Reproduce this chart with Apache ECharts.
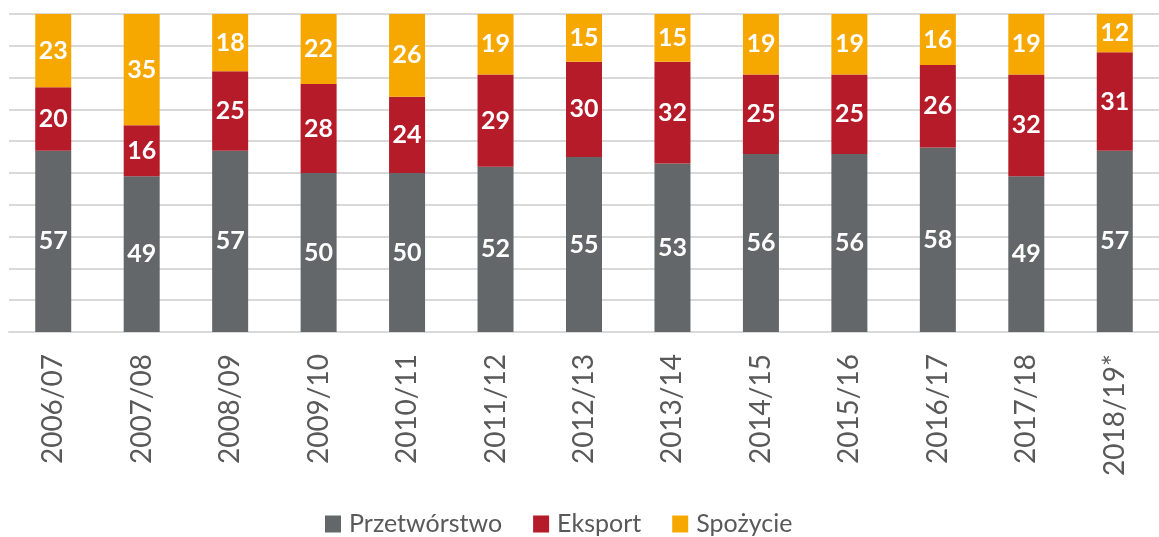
<!DOCTYPE html>
<html><head><meta charset="utf-8">
<script src="https://cdn.jsdelivr.net/npm/echarts@6/dist/echarts.min.js"></script>
<style>html,body{margin:0;padding:0;background:#fff}#c{width:1159px;height:537px}</style>
</head><body><div id="c"></div>
<script>
const categories = ['2006/07','2007/08','2008/09','2009/10','2010/11','2011/12','2012/13','2013/14','2014/15','2015/16','2016/17','2017/18','2018/19*'];
const przetworstwo = [57,49,57,50,50,52,55,53,56,56,58,49,57];
const eksport = [20,16,25,28,24,29,30,32,25,25,26,32,31];
const spozycie = [23,35,18,22,26,19,15,15,19,19,16,19,12];
const seriesNames = ['Przetwórstwo','Eksport','Spożycie'];
const colors = ['#636769','#B51B28','#F6A800'];

const chart = echarts.init(document.getElementById('c'), null, {renderer:'canvas'});
const lbl = {show:true, position:'inside', color:'#fff', fontFamily:'Lato', fontWeight:'bold', fontSize:25};
function mk(name, data, i){
  return {name, type:'bar', stack:'a', data, barWidth:36, itemStyle:{color:colors[i]}, label:lbl};
}
chart.setOption({
  animation:false,
  grid:{left:9, right:-12, top:14, bottom:205, containLabel:false},
  legend:{left:320, top:504, itemWidth:16, itemHeight:17, itemGap:31, icon:'rect',
    textStyle:{fontFamily:'Lato', fontSize:25, lineHeight:30, color:'#595959', padding:[0,0,0,3]},
    data:seriesNames},
  xAxis:{type:'category', data:categories,
    axisLine:{show:true, lineStyle:{color:'#d9d9d9', width:2}},
    axisTick:{show:false},
    axisLabel:{rotate:90, margin:22, color:'#595959', fontFamily:'Lato', fontSize:28, interval:0}},
  yAxis:{type:'value', min:0, max:100, interval:10, axisLabel:{show:false}, axisLine:{show:false}, axisTick:{show:false},
    splitLine:{lineStyle:{color:'#d9d9d9', width:2}}},
  series:[mk(seriesNames[0], przetworstwo, 0), mk(seriesNames[1], eksport, 1), mk(seriesNames[2], spozycie, 2)]
});
</script></body></html>
